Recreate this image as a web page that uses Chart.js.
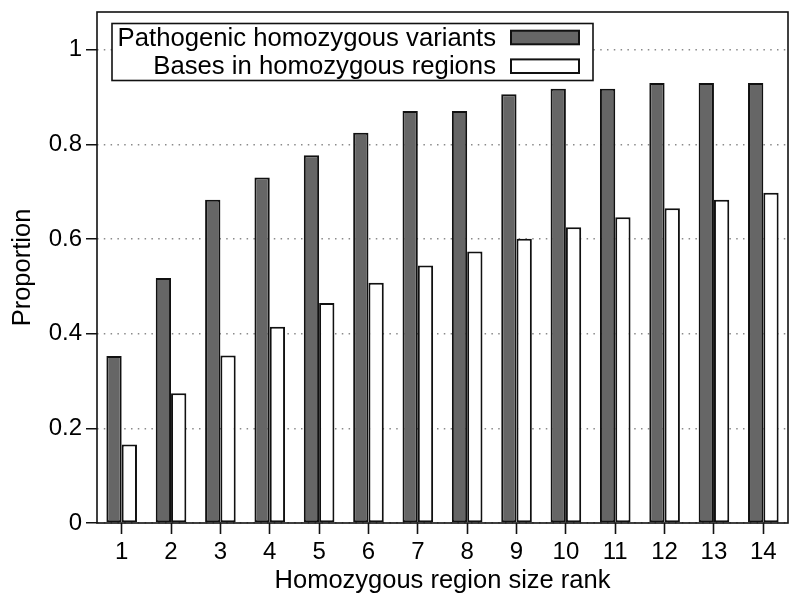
<!DOCTYPE html>
<html>
<head>
<meta charset="utf-8">
<script src="https://cdn.jsdelivr.net/npm/chart.js@4/dist/chart.umd.min.js"></script>
<style>
    html, body { margin: 0; padding: 0; background: #fff; }
    #wrap { width: 800px; height: 608px; }
</style>
</head>
<body>
<div id="wrap"><canvas id="myChart" width="800" height="608"></canvas></div>
<script>
let ranks = ['1', '2', '3', '4', '5', '6', '7', '8', '9', '10', '11', '12', '13', '14'];
let pathogenic = [0.353, 0.518, 0.683, 0.730, 0.777, 0.825, 0.871, 0.871, 0.906, 0.918, 0.918, 0.930, 0.930, 0.930];
let bases = [0.166, 0.274, 0.354, 0.415, 0.465, 0.508, 0.544, 0.574, 0.601, 0.625, 0.646, 0.665, 0.683, 0.698];
let seriesNames = ['Pathogenic homozygous variants', 'Bases in homozygous regions'];
let colors = {
    'dark': '#666666'
    , 'white': '#ffffff'
    , 'black': '#111111'
    , 'grid': '#8a8a8a'
};
let fontFamily = '"Liberation Sans", Arial, sans-serif';

// plot frame drawn over the bars, like gnuplot's border
const frame = {
    id: 'frame',
    afterDatasetsDraw(chart) {
        let a = chart.chartArea;
        let ctx = chart.ctx;
        ctx.save();
        ctx.strokeStyle = colors['black'];
        ctx.lineWidth = 1.6;
        ctx.strokeRect(a.left, a.top, a.right - a.left, a.bottom - a.top);
        ctx.restore();
    }
};

// boxed key inside the plot, text right-aligned with the sample after it
const keyBox = {
    id: 'keyBox',
    afterDraw(chart) {
        let ctx = chart.ctx;
        let sets = chart.data.datasets;
        ctx.save();
        ctx.fillStyle = '#fff';
        ctx.fillRect(112, 23.5, 481, 57);
        ctx.strokeStyle = colors['black'];
        ctx.lineWidth = 1.6;
        ctx.strokeRect(112, 23.5, 481, 57);
        ctx.font = '25.7px ' + fontFamily;
        ctx.textAlign = 'right';
        ctx.textBaseline = 'middle';
        for (let i = 0; i < sets.length; i++) {
            let y = 37.5 + i * 28.7;
            ctx.fillStyle = '#000';
            ctx.fillText(sets[i].label, 496, y + 1);
            ctx.fillStyle = sets[i].backgroundColor;
            ctx.fillRect(511, y - 6.8, 68, 13.6);
            ctx.lineWidth = 2;
            ctx.strokeRect(511, y - 6.8, 68, 13.6);
        }
        ctx.restore();
    }
};

let data = {
    labels: ranks,
    datasets: [
        {
            label: seriesNames[0],
            data: pathogenic,
            backgroundColor: colors['dark'],
            borderColor: colors['black'],
            borderWidth: 2,
            borderSkipped: false,
            barPercentage: 1,
            categoryPercentage: 0.62
        },
        {
            label: seriesNames[1],
            data: bases,
            backgroundColor: colors['white'],
            borderColor: colors['black'],
            borderWidth: 2,
            borderSkipped: false,
            barPercentage: 1,
            categoryPercentage: 0.62
        }
    ]
};

let ctx = document.getElementById('myChart').getContext('2d');
let myChart = new Chart(ctx, {
    type: 'bar',
    data: data,
    plugins: [frame, keyBox],
    options: {
        responsive: false,
        animation: false,
        layout: { padding: { top: 12, right: 12, left: 0, bottom: 0 } },
        plugins: {
            legend: { display: false },
            tooltip: { enabled: false }
        },
        scales: {
            x: {
                offset: true,
                grid: {
                    offset: false,
                    drawOnChartArea: false,
                    drawTicks: true,
                    tickLength: 11,
                    tickColor: colors['black'],
                    tickWidth: 1.6
                },
                border: { display: false },
                ticks: {
                    color: '#000',
                    padding: 4,
                    maxRotation: 0,
                    font: { family: fontFamily, size: 24 }
                },
                title: {
                    display: true,
                    text: 'Homozygous region size rank',
                    color: '#000',
                    font: { family: fontFamily, size: 25.5, lineHeight: 1.2 },
                    padding: { top: 0, bottom: 11.5 }
                },
                afterFit(scale) {
                    scale.height = 85;
                    scale.paddingLeft = 0;
                    scale.paddingRight = 0;
                }
            },
            y: {
                min: 0,
                max: 1.08,
                grid: {
                    color: colors['grid'],
                    lineWidth: 1.5,
                    tickLength: 11,
                    tickColor: colors['black'],
                    tickWidth: 1.6,
                    tickBorderDash: [1, 0]
                },
                border: { display: false, dash: [1.5, 5.3] },
                ticks: {
                    stepSize: 0.2,
                    includeBounds: false,
                    color: '#000',
                    padding: 4,
                    font: { family: fontFamily, size: 24 },
                    callback: (v) => String(Math.round(v * 10) / 10)
                },
                title: {
                    display: true,
                    text: 'Proportion',
                    color: '#000',
                    font: { family: fontFamily, size: 25.5, lineHeight: 1.2 },
                    padding: { top: 8, bottom: 0 }
                },
                afterFit(scale) {
                    scale.width = 97;
                    scale.paddingTop = 0;
                    scale.paddingBottom = 0;
                }
            }
        }
    }
});
</script>
</body>
</html>
